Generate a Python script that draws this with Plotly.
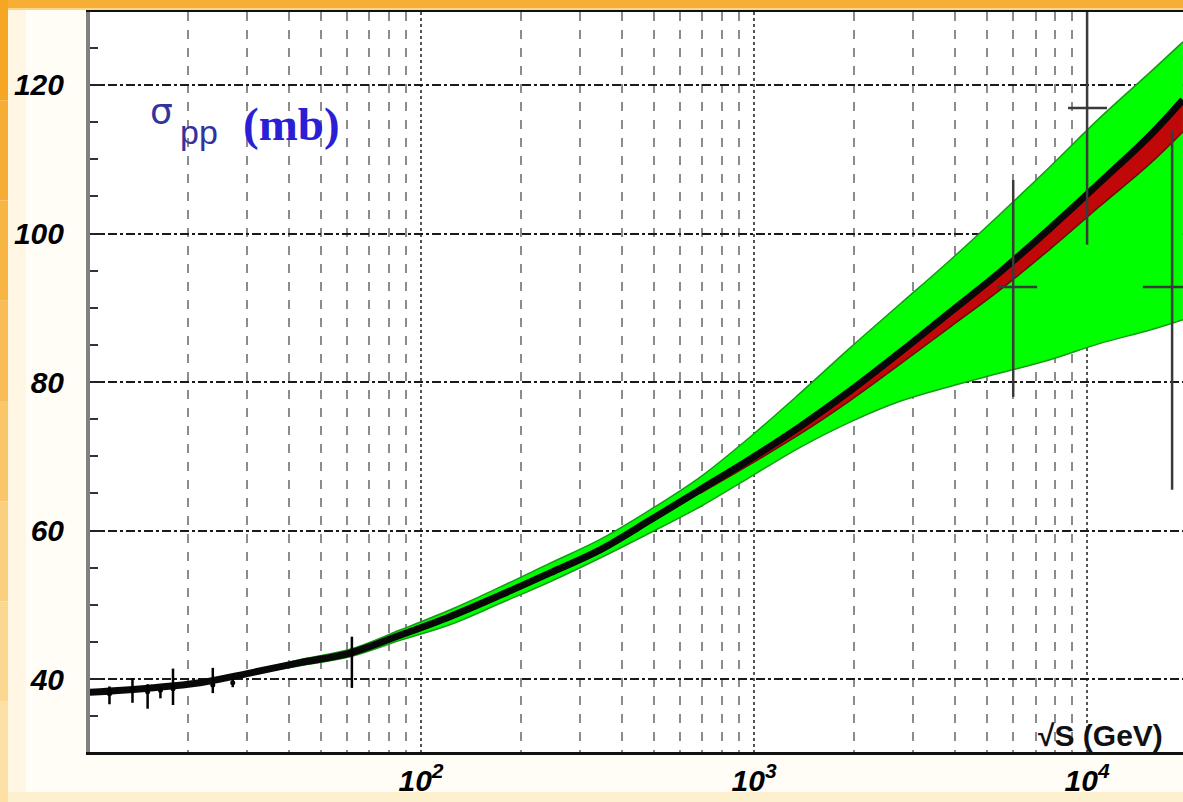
import plotly.graph_objects as go

# ---------------- data ----------------
sqrt_s_fit = [10.1, 15.4, 21.7, 30.6, 43.3, 61.2, 86.5, 122, 173, 244, 345, 488,
              689, 973, 1375, 1942, 2744, 3877, 5477, 7738, 10940, 15450, 19400]
sigma_fit = [38.2, 38.8, 39.5, 40.8, 42.2, 43.5, 45.9, 48.4, 51.3, 54.3, 57.4, 61.4,
             65.5, 69.6, 74.0, 78.8, 84.0, 89.4, 94.8, 100.7, 106.9, 113.2, 118.0]

band_s = [30.6, 43.3, 61.2, 86.5, 122, 173, 244, 345, 488, 689, 973, 1375, 1942,
          2744, 3877, 5477, 7738, 10940, 15450, 19400]
band_upper = [40.9, 42.6, 44.0, 46.6, 49.3, 52.4, 55.6, 58.8, 62.8, 67.2, 72.6, 78.5,
              84.6, 90.5, 96.4, 102.6, 109.0, 115.6, 121.7, 125.8]
band_lower = [40.7, 41.8, 43.0, 45.2, 47.3, 50.2, 53.1, 56.3, 59.7, 63.2, 67.2, 71.2,
              74.6, 77.4, 79.4, 81.2, 83.0, 85.2, 87.0, 88.4]

red_s = [689, 973, 1375, 1942, 2744, 3877, 5477, 7738, 10940, 15450, 19400]
red_lower = [65.0, 68.9, 73.0, 77.5, 82.4, 87.4, 92.4, 97.9, 103.7, 109.4, 113.7]

low_s = [11.6, 13.6, 15.1, 16.5, 18.0, 23.7, 27.2, 62.0]
low_sigma = [38.0, 38.6, 38.3, 38.5, 38.7, 39.2, 39.5, 43.4]
low_err_plus = [1.0, 1.5, 1.0, 0.4, 2.7, 2.3, 0.6, 2.3]
low_err_minus = [1.4, 1.8, 2.3, 1.1, 2.2, 1.1, 0.6, 4.6]

cr_s = [6000, 10000, 18000]
cr_sigma = [92.8, 116.9, 92.8]
cr_err_plus = [14.4, 13.0, 21.2]
cr_err_minus = [14.8, 18.4, 27.3]
cr_xerr_plus = [1080, 1480, 6000]
cr_xerr_minus = [630, 1230, 3300]

y_tick_vals = [40, 60, 80, 100, 120]
x_tick_vals = [100, 1000, 10000]
x_tick_text = ["10<sup>2</sup>", "10<sup>3</sup>", "10<sup>4</sup>"]
x_minor_vals = [20, 30, 40, 50, 60, 70, 80, 90,
                200, 300, 400, 500, 600, 700, 800, 900,
                2000, 3000, 4000, 5000, 6000, 7000, 8000, 9000]

# ---------------- figure ----------------
W, H = 1183, 802
ML, MR, MT, MB = 90, 0, 12, 50
PW, PH = W - ML - MR, H - MT - MB


def px(x):
    return (x - ML) / PW


def py(y):
    return (H - MB - y) / PH


fig = go.Figure()

# green band
fig.add_trace(go.Scatter(x=band_s, y=band_lower, mode="lines", line=dict(color="#169a16", width=1.5, shape="spline"),
                         hoverinfo="skip", showlegend=False))
fig.add_trace(go.Scatter(x=band_s, y=band_upper, mode="lines", fill="tonexty", fillcolor="#00ff00",
                         line=dict(color="#169a16", width=1.5, shape="spline"), hoverinfo="skip", showlegend=False))

# red band (below the central black curve)
red_upper = sigma_fit[len(sigma_fit) - len(red_s):]
fig.add_trace(go.Scatter(x=red_s, y=red_lower, mode="lines", line=dict(color="#6a0c0c", width=1.5, shape="spline"),
                         hoverinfo="skip", showlegend=False))
fig.add_trace(go.Scatter(x=red_s, y=red_upper, mode="lines", fill="tonexty", fillcolor="#c00808",
                         line=dict(color="#c00808", width=1, shape="spline"), hoverinfo="skip", showlegend=False))

# central fit curve
fig.add_trace(go.Scatter(x=sqrt_s_fit, y=sigma_fit, mode="lines", line=dict(color="#080808", width=7, shape="spline"),
                         hoverinfo="skip", showlegend=False))

# accelerator data points
fig.add_trace(go.Scatter(x=low_s, y=low_sigma, mode="markers",
                         marker=dict(symbol="circle", size=5, color="black"),
                         error_y=dict(type="data", symmetric=False, array=low_err_plus, arrayminus=low_err_minus,
                                      color="black", thickness=2.5, width=0),
                         showlegend=False))

# cosmic-ray points
fig.add_trace(go.Scatter(x=cr_s, y=cr_sigma, mode="markers",
                         marker=dict(size=1, color="#333333"),
                         error_y=dict(type="data", symmetric=False, array=cr_err_plus, arrayminus=cr_err_minus,
                                      color="#3a3a3a", thickness=2.5, width=0),
                         error_x=dict(type="data", symmetric=False, array=cr_xerr_plus, arrayminus=cr_xerr_minus,
                                      color="#3a3a3a", thickness=2.5, width=0),
                         showlegend=False))

tickfont = dict(family="Liberation Sans", size=30, color="black", weight="bold", style="italic")

fig.update_xaxes(
    type="log", range=[1.006, 4.288],
    tickmode="array", tickvals=x_tick_vals, ticktext=x_tick_text,
    tickfont=tickfont, ticks="", ticklabelstandoff=0,
    showgrid=True, gridcolor="#555555", griddash="dot", gridwidth=2,
    minor=dict(tickmode="array", tickvals=x_minor_vals, showgrid=True, gridcolor="#8c8c8c",
               griddash="dash", gridwidth=1.5, ticks=""),
    showline=True, linecolor="#111111", linewidth=3, mirror=True,
    zeroline=False,
)
fig.update_yaxes(
    range=[30.17, 129.83],
    tickmode="array", tickvals=y_tick_vals,
    tickfont=tickfont, ticks="inside", ticklen=12, tickwidth=2, tickcolor="#222222",
    ticklabelstandoff=16,
    showgrid=True, gridcolor="#1a1a1a", griddash="dashdot", gridwidth=2,
    minor=dict(dtick=5, tick0=0, ticks="inside", ticklen=8, tickwidth=2, tickcolor="#333333", showgrid=False),
    showline=True, linecolor="#808080", linewidth=4, mirror=False,
    zeroline=False,
)

# orange frame of the slide
shapes = []
shapes.append(dict(type="rect", xref="paper", yref="paper", x0=px(0), x1=px(W), y0=py(8), y1=py(0),
                   fillcolor="#f6ae35", line=dict(width=0), layer="above"))
shapes.append(dict(type="rect", xref="paper", yref="paper", x0=px(0), x1=px(W), y0=py(10), y1=py(8),
                   fillcolor="#fbd68a", line=dict(width=0), layer="above"))
shapes.append(dict(type="rect", xref="paper", yref="paper", x0=px(0), x1=px(W), y0=py(H), y1=py(792),
                   fillcolor="#fdf0cf", line=dict(width=0), layer="above"))
left_cols = ["#f5a623", "#f6ad33", "#f7b544", "#f8bd56", "#f9c669", "#facf7d", "#fbd891", "#fce0a5"]
n = len(left_cols)
for i, c in enumerate(left_cols):
    shapes.append(dict(type="rect", xref="paper", yref="paper", x0=px(0), x1=px(8),
                       y0=py(H * (i + 1) / n), y1=py(H * i / n), fillcolor=c, line=dict(width=0), layer="above"))
shapes.append(dict(type="rect", xref="paper", yref="paper", x0=px(8), x1=px(26), y0=py(792), y1=py(10),
                   fillcolor="#fff7e4", line=dict(width=0), layer="below"))
fig.update_layout(shapes=shapes)

annotations = [
    dict(text="σ", x=px(161), y=py(112), font=dict(family="DejaVu Sans", size=36, color="#33339e")),
    dict(text="pp", x=px(199), y=py(132), font=dict(family="Liberation Sans", size=34, color="#33339e")),
    dict(text="(mb)", x=px(291), y=py(124),
         font=dict(family="Liberation Serif", size=47, color="#2a1fd4", weight="bold")),
    dict(text="√S (GeV)", x=px(1100), y=py(735),
         font=dict(family="Liberation Sans", size=30, color="#111111", weight="bold")),
]
for a in annotations:
    a.update(xref="paper", yref="paper", xanchor="center", yanchor="middle", showarrow=False)
fig.update_layout(annotations=annotations)

fig.update_layout(
    width=W, height=H, autosize=False,
    margin=dict(l=ML, r=MR, t=MT, b=MB, pad=0),
    paper_bgcolor="#fffdf6", plot_bgcolor="white",
    showlegend=False,
)

fig.write_html("out.html", config={"displayModeBar": False},
               post_script="document.body.style.margin='0px';document.body.style.overflow='hidden';")
